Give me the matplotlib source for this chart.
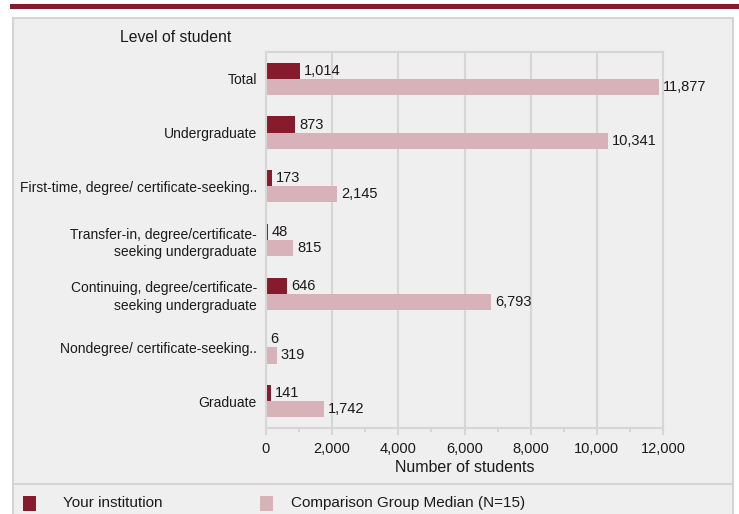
import numpy as np
import matplotlib.pyplot as plt
from matplotlib.patches import Rectangle
from matplotlib.lines import Line2D

plt.rcParams['font.family'] = ['Liberation Sans', 'DejaVu Sans']

categories = ["Total", "Undergraduate", "First-time, degree/ certificate-seeking..",
              "Transfer-in, degree/certificate-\nseeking undergraduate",
              "Continuing, degree/certificate-\nseeking undergraduate",
              "Nondegree/ certificate-seeking..", "Graduate"]
institution = [1014, 873, 173, 48, 646, 6, 141]
comparison = [11877, 10341, 2145, 815, 6793, 319, 1742]
series_names = ["Your institution", "Comparison Group Median (N=15)"]
xticks = [0, 2000, 4000, 6000, 8000, 10000, 12000]

c_inst = '#861b2d'
c_comp = '#d7b3b9'
panel_bg = '#efefef'
grid_c = '#d6d6d6'
txt_c = '#1a1a1a'

W, H = 739, 514
fig = plt.figure(figsize=(W / 100, H / 100), dpi=100)
fig.patch.set_facecolor('white')

# top red rule and panel (behind the axes)
fig.patches.append(Rectangle((10 / W, 1 - 9 / H), 1, 5 / H, transform=fig.transFigure,
                             facecolor=c_inst, edgecolor='none', zorder=-2))
fig.patches.append(Rectangle((13 / W, -0.05), (733 - 13) / W, 1 - 18 / H + 0.05,
                             transform=fig.transFigure, facecolor=panel_bg,
                             edgecolor='#d4d4d4', linewidth=1.5, zorder=-2))
fig.lines.append(Line2D([13 / W, 733 / W], [1 - 484 / H] * 2, transform=fig.transFigure,
                        color='#d4d4d4', linewidth=1.5, zorder=-1))

ax = fig.add_axes([266 / W, 1 - 428 / H, (663 - 266) / W, (428 - 52) / H])
ax.set_facecolor(panel_bg)

y = np.arange(len(categories))
h = 0.3
ax.barh(y - h / 2, institution, height=h, color=c_inst)
ax.barh(y + h / 2, comparison, height=h, color=c_comp)

for yi, v in zip(y, institution):
    ax.annotate(f"{v:,}", (v, yi - h / 2), xytext=(3, 0), textcoords='offset points',
                va='center', ha='left', fontsize=10.5, color=txt_c)
for yi, v in zip(y, comparison):
    ax.annotate(f"{v:,}", (v, yi + h / 2), xytext=(3, 0), textcoords='offset points',
                va='center', ha='left', fontsize=10.5, color=txt_c)

ax.set_xlim(0, 12000)
ax.set_ylim(len(categories) - 0.5, -0.5)
ax.set_yticks(y)
ax.set_yticklabels(categories, fontsize=10, color=txt_c, ha='right',
                   multialignment='right', linespacing=1.3)
ax.set_xticks(xticks)
ax.set_xticklabels([f"{t:,}" for t in xticks], fontsize=10.5, color=txt_c)
ax.set_xticks(np.arange(1000, 12000, 2000), minor=True)
ax.tick_params(axis='y', length=0, pad=6.5)
ax.tick_params(axis='x', which='major', length=5, width=1.5, color=grid_c, pad=5)
ax.tick_params(axis='x', which='minor', length=3, width=1.5, color=grid_c)
ax.grid(axis='x', color=grid_c, linewidth=1.5)
ax.set_axisbelow(True)
for s in ax.spines.values():
    s.set_color(grid_c)
    s.set_linewidth(1.5)
ax.set_xlabel("Number of students", fontsize=11.5, color=txt_c, labelpad=3)

fig.text(176 / W, 1 - 38 / H, "Level of student", fontsize=11.3, ha='center', va='center',
         color=txt_c)

# legend
for (x0, xt, name, c) in [(23, 63, series_names[0], c_inst), (260, 291, series_names[1], c_comp)]:
    fig.patches.append(Rectangle((x0 / W, 1 - 511 / H), 13 / W, 15 / H,
                                 transform=fig.transFigure, facecolor=c, edgecolor='none'))
    fig.text(xt / W, 1 - 503 / H, name, fontsize=11, va='center', ha='left', color=txt_c)

fig.savefig('out.png', dpi=100, facecolor='white')
